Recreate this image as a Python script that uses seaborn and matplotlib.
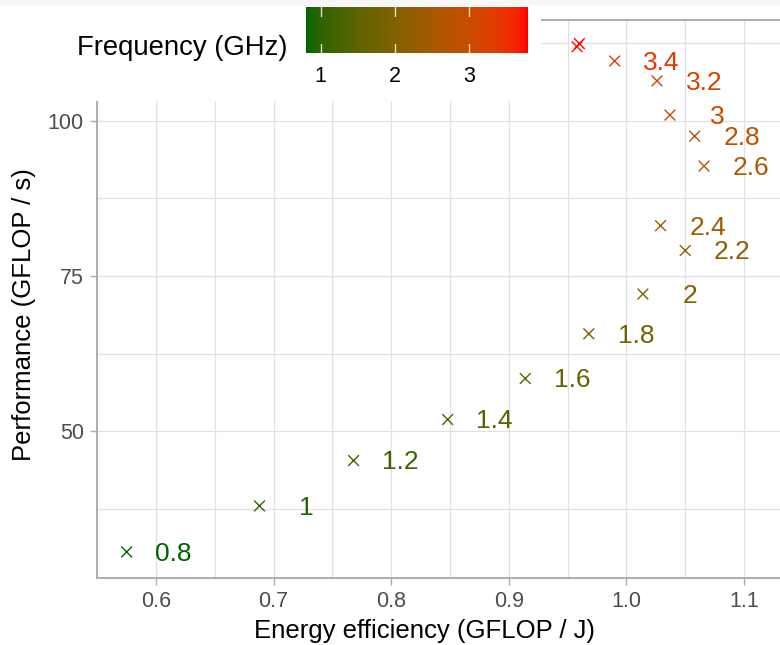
import numpy as np
import pandas as pd
import matplotlib
matplotlib.use("Agg")
import matplotlib.pyplot as plt
import seaborn as sns
from matplotlib.colors import ListedColormap, Normalize, to_rgb
from matplotlib.cm import ScalarMappable
from matplotlib.patches import Rectangle

# data
freq = [0.8, 1.0, 1.2, 1.4, 1.6, 1.8, 2.0, 2.2, 2.4, 2.6, 2.8, 3.0, 3.2, 3.4, 3.7, 3.8]
efficiency = [0.575, 0.688, 0.768, 0.848, 0.914, 0.968, 1.014, 1.050, 1.029,
              1.066, 1.058, 1.037, 1.026, 0.990, 0.958, 0.960]
performance = [30.6, 38.0, 45.3, 51.9, 58.5, 65.7, 72.1, 79.1, 83.1,
               92.7, 97.5, 100.9, 106.4, 109.6, 111.9, 112.4]
labels = ["0.8", "1", "1.2", "1.4", "1.6", "1.8", "2", "2.2", "2.4",
          "2.6", "2.8", "3", "3.2", "3.4", "", ""]
cbar_ticks = [1, 2, 3]

df = pd.DataFrame({"freq": freq, "eff": efficiency, "perf": performance, "lab": labels})


# darkgreen -> red gradient interpolated in Lab, like ggplot
def to_lab(rgb):
    c = np.asarray(rgb, float)
    c = np.where(c > 0.04045, ((c + 0.055) / 1.055) ** 2.4, c / 12.92)
    M = np.array([[0.4124, 0.3576, 0.1805], [0.2126, 0.7152, 0.0722], [0.0193, 0.1192, 0.9505]])
    t = (M @ c) / np.array([0.95047, 1.0, 1.08883])
    f = np.where(t > (6 / 29) ** 3, np.cbrt(t), t / (3 * (6 / 29) ** 2) + 4 / 29)
    return np.array([116 * f[1] - 16, 500 * (f[0] - f[1]), 200 * (f[1] - f[2])])


def from_lab(lab):
    L, a, b = lab
    fy = (L + 16) / 116
    f = np.array([fy + a / 500, fy, fy - b / 200])
    t = np.where(f > 6 / 29, f ** 3, 3 * (6 / 29) ** 2 * (f - 4 / 29))
    xyz = t * np.array([0.95047, 1.0, 1.08883])
    Minv = np.array([[3.2406, -1.5372, -0.4986], [-0.9689, 1.8758, 0.0415], [0.0557, -0.2040, 1.0570]])
    c = Minv @ xyz
    c = np.where(c > 0.0031308, 1.055 * np.clip(c, 0, None) ** (1 / 2.4) - 0.055, 12.92 * c)
    return np.clip(c, 0, 1)


lo, hi = to_lab(to_rgb("#006400")), to_lab(to_rgb("#FF0000"))
cmap = ListedColormap([from_lab(lo + (hi - lo) * s) for s in np.linspace(0, 1, 256)])
norm = Normalize(min(freq), max(freq))

sns.set_style("white")
plt.rcParams["font.family"] = ["Liberation Sans", "DejaVu Sans"]

fig = plt.figure(figsize=(7.8, 6.45), dpi=100)
ax = fig.add_axes([97 / 780, 1 - 578 / 645, 1 - 97 / 780, (578 - 20) / 645])

sns.scatterplot(data=df, x="eff", y="perf", hue="freq", palette=cmap, hue_norm=norm,
                marker="x", s=60, linewidth=1.0, legend=False, ax=ax, zorder=3)
for _, r in df.iterrows():
    if r["lab"]:
        ax.text(r["eff"] + 0.04, r["perf"] - 0.3, r["lab"], color=cmap(norm(r["freq"])),
                fontsize=19, ha="center", va="center", zorder=4)

ax.set_xlim(0.5498, 1.1306)
ax.set_ylim(26.4, 116.2)
ax.set_xticks([0.6, 0.7, 0.8, 0.9, 1.0, 1.1])
ax.set_xticklabels(["0.6", "0.7", "0.8", "0.9", "1.0", "1.1"])
ax.set_yticks([50, 75, 100])
ax.set_xticks(np.arange(0.55, 1.14, 0.05), minor=True)
ax.set_yticks([37.5, 62.5, 87.5, 112.5], minor=True)
ax.grid(True, which="both", color="#E0E0E0", linewidth=0.9)
ax.set_axisbelow(True)
for side in ["left", "bottom", "top"]:
    ax.spines[side].set_color("#ADADAD")
    ax.spines[side].set_linewidth(1.4)
ax.spines["right"].set_visible(False)
ax.tick_params(axis="both", which="major", length=5, width=1, color="#ADADAD",
               labelsize=15.5, labelcolor="#4D4D4D", pad=4.5, left=True, bottom=True)
ax.tick_params(which="minor", length=0)

ax.set_xlabel("Energy efficiency (GFLOP / J)", fontsize=18.5, color="black")
ax.set_ylabel("Performance (GFLOP / s)", fontsize=18.5, color="black")
ax.xaxis.set_label_coords((425 - 97) / (780 - 97), -(619 - 578) / 558)
ax.yaxis.set_label_coords(-(97 - 36) / (780 - 97), (578 - 315) / (578 - 20))

# legend area on top of the panel
fig.patches.append(Rectangle((0, 1 - 101 / 645), 541 / 780, 101 / 645, transform=fig.transFigure,
                             facecolor="white", edgecolor="none", zorder=1))
fig.patches.append(Rectangle((0, 1 - 6 / 645), 1, 6 / 645, transform=fig.transFigure,
                             facecolor="#F7F7F7", edgecolor="none", zorder=1))
fig.text(77 / 780, 1 - 48 / 645, "Frequency (GHz)", fontsize=19.8, color="black",
         ha="left", va="center", zorder=3)

cax = fig.add_axes([306 / 780, 1 - 53 / 645, 222 / 780, 46 / 645])
cax.set_zorder(5)
cb = fig.colorbar(ScalarMappable(norm=norm, cmap=cmap), cax=cax, orientation="horizontal")
cb.outline.set_visible(False)
cb.set_ticks(cbar_ticks)
cb.ax.tick_params(length=0, labelsize=15.5, labelcolor="black", pad=9)
for t in cbar_ticks:
    cax.axvline(t, ymin=0, ymax=0.2, color="white", lw=1, alpha=0.8)
    cax.axvline(t, ymin=0.8, ymax=1, color="white", lw=1, alpha=0.8)

fig.savefig("out.png", dpi=100)
